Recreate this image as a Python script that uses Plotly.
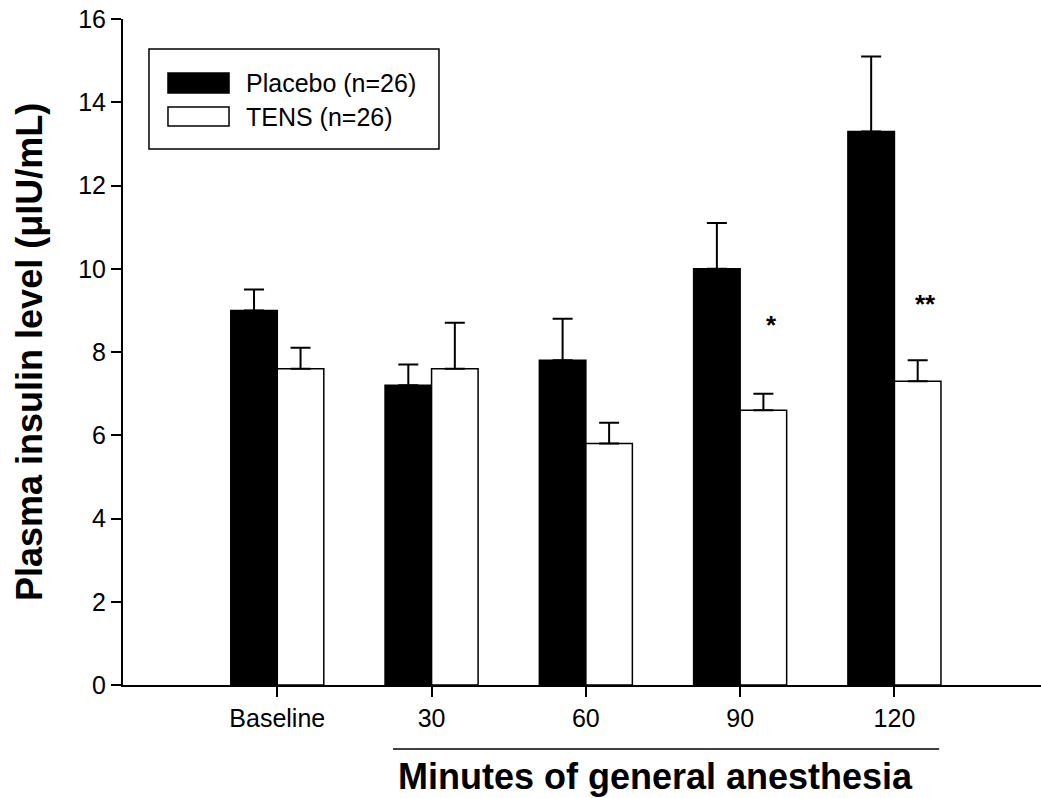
import plotly.graph_objects as go

categories = ["Baseline", "30", "60", "90", "120"]
series_names = ["Placebo (n=26)", "TENS (n=26)"]
placebo_mean = [9.0, 7.2, 7.8, 10.0, 13.3]
placebo_upper = [9.5, 7.7, 8.8, 11.1, 15.1]
tens_mean = [7.6, 7.6, 5.8, 6.6, 7.3]
tens_upper = [8.1, 8.7, 6.3, 7.0, 7.8]
significance = ["", "", "", "*", "**"]
sig_y = [None, None, None, 8.65, 9.15]

xpos = list(range(len(categories)))
FONT = "Liberation Sans, Arial, sans-serif"
fills = ["black", "white"]

fig = go.Figure()
for name, mean, upper, fill in zip(series_names, [placebo_mean, tens_mean],
                                   [placebo_upper, tens_upper], fills):
    fig.add_trace(go.Bar(
        x=xpos, y=mean, name=name, showlegend=False,
        marker=dict(color=fill, line=dict(color="black", width=1.5)),
        error_y=dict(type="data", symmetric=False,
                     array=[u - m for u, m in zip(upper, mean)],
                     arrayminus=[0] * len(mean),
                     color="black", thickness=2, width=10),
    ))

annotations = []
for i, (s, yy) in enumerate(zip(significance, sig_y)):
    if s:
        annotations.append(dict(x=i + 0.2, y=yy, xref="x", yref="y", text="<b>%s</b>" % s,
                                showarrow=False, font=dict(family=FONT, size=26, color="black"),
                                xanchor="center", yanchor="middle"))
annotations.append(dict(x=-0.1024, y=0.5, xref="paper", yref="paper",
                        text="<b>Plasma insulin level (\u03bcIU/mL)</b>", textangle=-90,
                        showarrow=False, font=dict(family=FONT, size=36, color="black"),
                        xanchor="center", yanchor="middle"))
annotations.append(dict(x=0.5806, y=-0.137, xref="paper", yref="paper",
                        text="<b>Minutes of general anesthesia</b>",
                        showarrow=False, font=dict(family=FONT, size=36, color="black"),
                        xanchor="center", yanchor="middle"))

# legend drawn as a framed key (paper coordinates)
shapes = [dict(type="line", xref="x", yref="paper", x0=0.75, x1=4.29,
               y0=-0.096, y1=-0.096, line=dict(color="black", width=1.5)),
          dict(type="rect", xref="paper", yref="paper", x0=0.0283, x1=0.3442,
               y0=0.8048, y1=0.955, line=dict(color="black", width=1.5), fillcolor="white",
               layer="above")]
key_rows = [(0.8889, 0.9189, 0.9039), (0.8393, 0.8679, 0.8529)]
for name, fill, (y0, y1, yc) in zip(series_names, fills, key_rows):
    shapes.append(dict(type="rect", xref="paper", yref="paper", x0=0.049, x1=0.1155,
                       y0=y0, y1=y1, line=dict(color="black", width=1.5), fillcolor=fill,
                       layer="above"))
    annotations.append(dict(x=0.1318, y=yc, xref="paper", yref="paper", text=name,
                            showarrow=False, font=dict(family=FONT, size=25, color="black"),
                            xanchor="left", yanchor="middle"))

fig.update_layout(
    width=1041, height=798,
    margin=dict(l=123, r=0, t=19, b=113),
    paper_bgcolor="white", plot_bgcolor="white",
    barmode="group", bargap=0.397, bargroupgap=0,
    font=dict(family=FONT, size=25, color="black"),
    showlegend=False,
    annotations=annotations,
    shapes=shapes,
)
fig.update_xaxes(range=[-1, 4.95], tickvals=xpos, ticktext=categories,
                 ticks="outside", ticklen=10, tickwidth=2, tickcolor="black",
                 showline=True, linewidth=2, linecolor="black",
                 showgrid=False, zeroline=False,
                 tickfont=dict(family=FONT, size=25, color="black"))
fig.update_yaxes(range=[0, 16], dtick=2, tick0=0,
                 ticks="outside", ticklen=10, tickwidth=2, tickcolor="black",
                 showline=True, linewidth=2, linecolor="black",
                 showgrid=False, zeroline=False,
                 tickfont=dict(family=FONT, size=25, color="black"))

fig.write_html("out.html")
